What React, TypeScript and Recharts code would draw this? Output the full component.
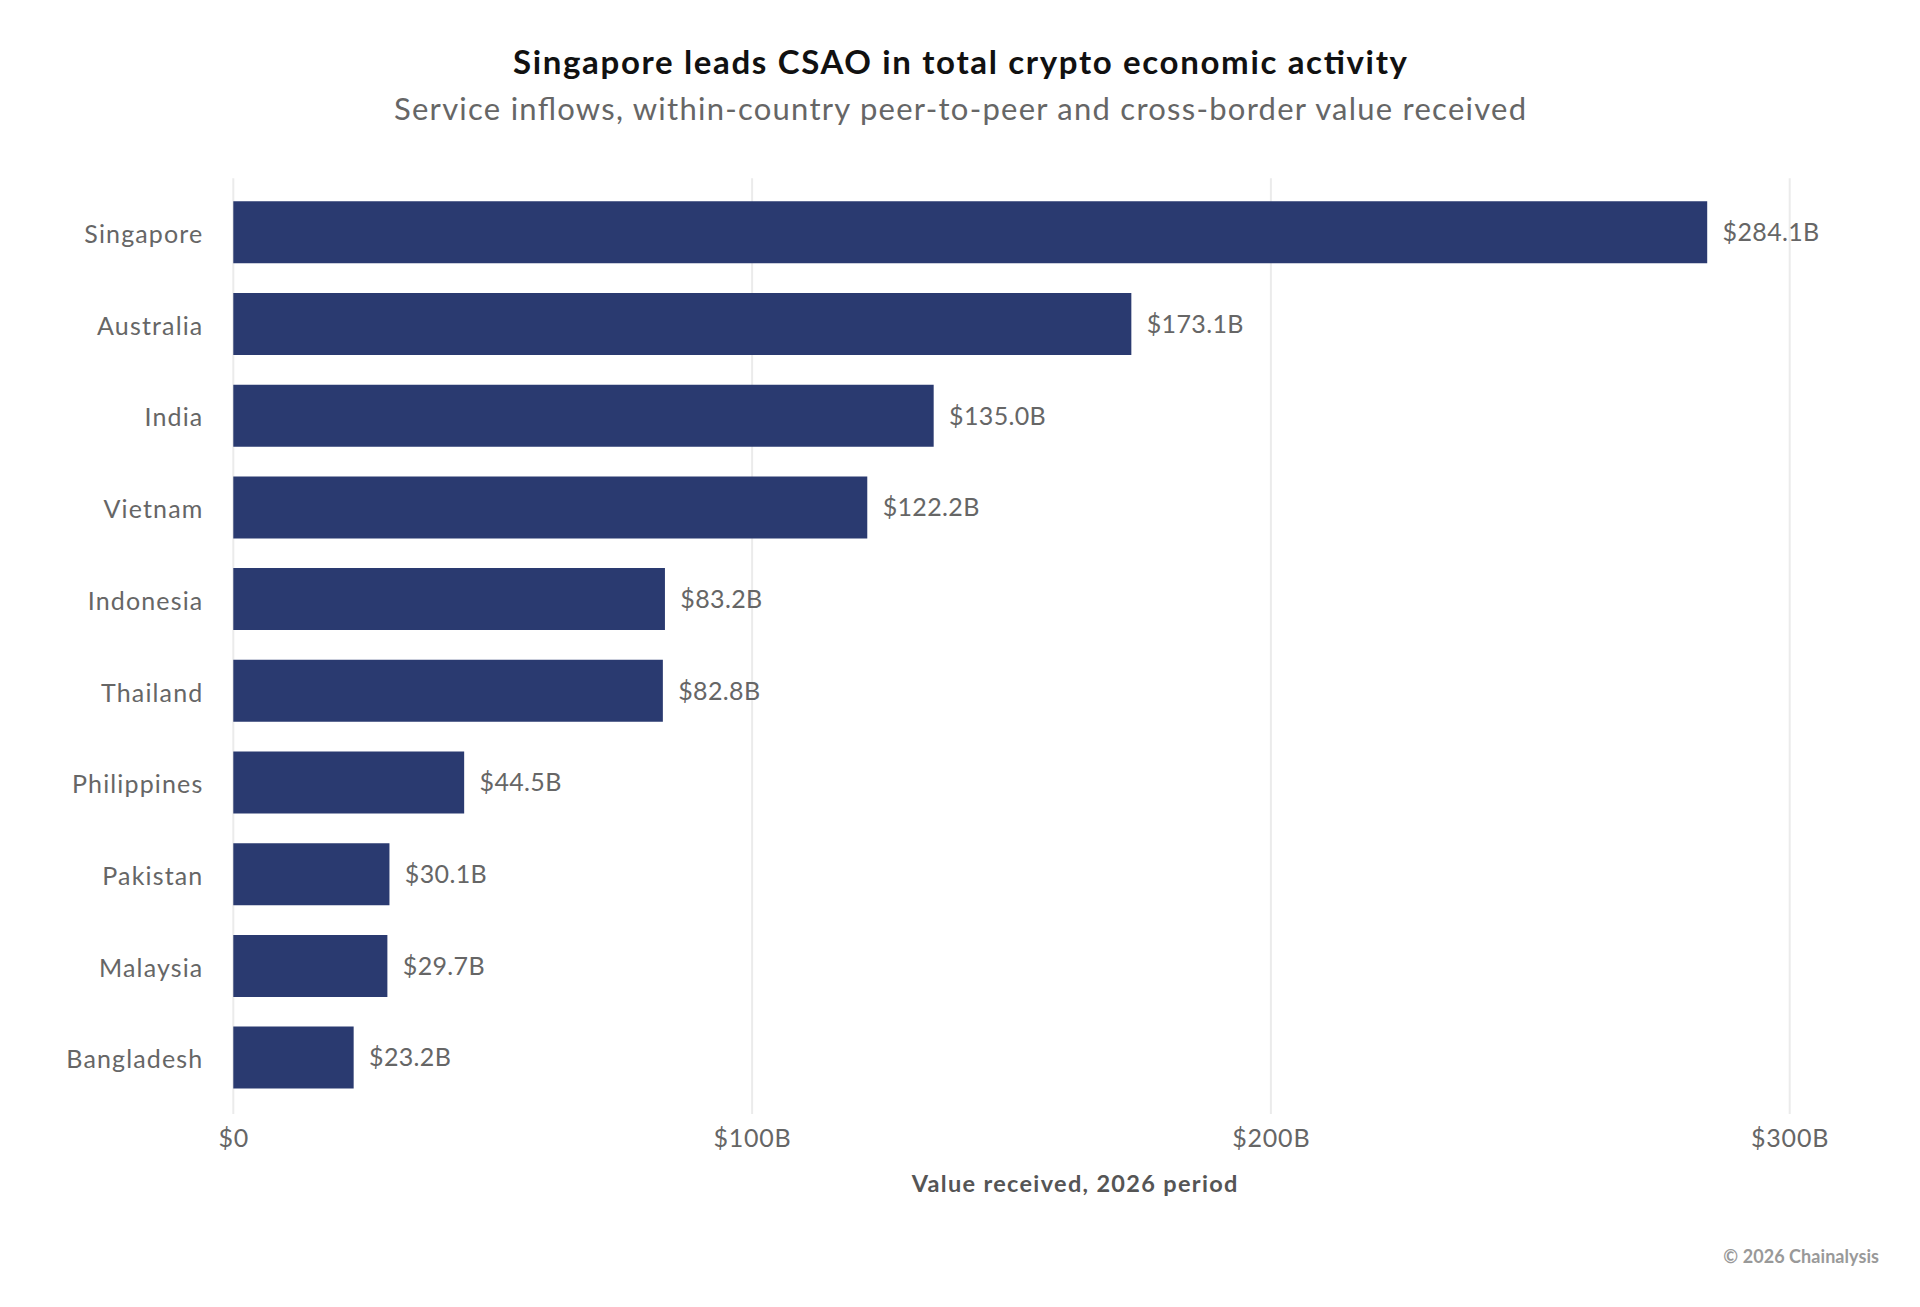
import React from 'react';
import { BarChart, Bar, XAxis, YAxis, CartesianGrid, LabelList } from 'recharts';

const countries = ['Singapore', 'Australia', 'India', 'Vietnam', 'Indonesia', 'Thailand', 'Philippines', 'Pakistan', 'Malaysia', 'Bangladesh'];
const values = [284.1, 173.1, 135.0, 122.2, 83.2, 82.8, 44.5, 30.1, 29.7, 23.2];
const xTicks = [0, 100, 200, 300];
const xTickLabels = ['$0', '$100B', '$200B', '$300B'];

const data = countries.map((c, i) => ({ country: c, value: values[i] }));

const FONT = 'Lato, "Noto Sans", sans-serif';
const W = 1904;
const H = 1291;

const Y_LS = 1.15;
const X_LS = 0.8;
const V_LS = 0.35;

const YTick = (props: any) => {
  const { x, y, payload } = props;
  return (
    <text x={Number(x) + Y_LS} y={y} dy={10.5} textAnchor="end" fill="#666666" fontSize={25} fontFamily={FONT} letterSpacing={Y_LS}>
      {payload.value}
    </text>
  );
};

const XTick = (props: any) => {
  const { x, y, payload } = props;
  const idx = xTicks.indexOf(payload.value);
  return (
    <text x={Number(x) + X_LS / 2} y={y} dy={32.7} textAnchor="middle" fill="#666666" fontSize={25} fontFamily={FONT} letterSpacing={X_LS}>
      {idx >= 0 ? xTickLabels[idx] : String(payload.value)}
    </text>
  );
};

const ValueLabel = (props: any) => {
  const { x, y, width, height, value } = props;
  return (
    <text x={Number(x) + Number(width) + 15.4} y={Number(y) + Number(height) / 2} dy={8.8} fill="#666666" fontSize={25} fontFamily={FONT} letterSpacing={V_LS}>
      {`$${Number(value).toFixed(1)}B`}
    </text>
  );
};

export default function App() {
  return (
    <div style={{ position: 'relative', width: W, height: H, background: '#ffffff' }}>
      <BarChart
        width={W}
        height={H}
        data={data}
        layout="vertical"
        margin={{ top: 170.3, right: 122.3, bottom: 145, left: 0 }}
        barCategoryGap="16%"
      >
        <CartesianGrid horizontal={false} vertical={true} stroke="#ebebeb" strokeWidth={2} />
        <XAxis
          type="number"
          domain={[0, 300]}
          ticks={xTicks}
          height={40}
          axisLine={false}
          tickLine={false}
          tickSize={0}
          tickMargin={0}
          tick={<XTick />}
          interval={0}
        />
        <YAxis
          type="category"
          dataKey="country"
          width={225.3}
          axisLine={false}
          tickLine={false}
          tickSize={0}
          tickMargin={31}
          tick={<YTick />}
          interval={0}
          padding={{ top: 8.35, bottom: 10.35 }}
        />
        <Bar dataKey="value" fill="#2a3a70" isAnimationActive={false}>
          <LabelList dataKey="value" content={<ValueLabel />} />
        </Bar>
      </BarChart>
      <svg width={W} height={H} style={{ position: 'absolute', left: 0, top: 0, pointerEvents: 'none' }}>
        <text x={952} y={66.3} textAnchor="middle" fill="#111111" fontSize={33} fontWeight={700} fontFamily={FONT} textLength={894} lengthAdjust="spacing">
          Singapore leads CSAO in total crypto economic activity
        </text>
        <text x={952} y={112} textAnchor="middle" fill="#666666" fontSize={31} fontFamily={FONT} textLength={1132} lengthAdjust="spacing">
          Service inflows, within-country peer-to-peer and cross-border value received
        </text>
        <text x={1066.5} y={1183.7} textAnchor="middle" fill="#555555" fontSize={23.5} fontWeight={700} fontFamily={FONT} textLength={325.7} lengthAdjust="spacing">
          Value received, 2026 period
        </text>
        <text x={1871} y={1255.3} textAnchor="end" fill="#999999" fontSize={18} fontWeight={700} fontFamily={FONT} textLength={155.7} lengthAdjust="spacing">
          © 2026 Chainalysis
        </text>
      </svg>
    </div>
  );
}
